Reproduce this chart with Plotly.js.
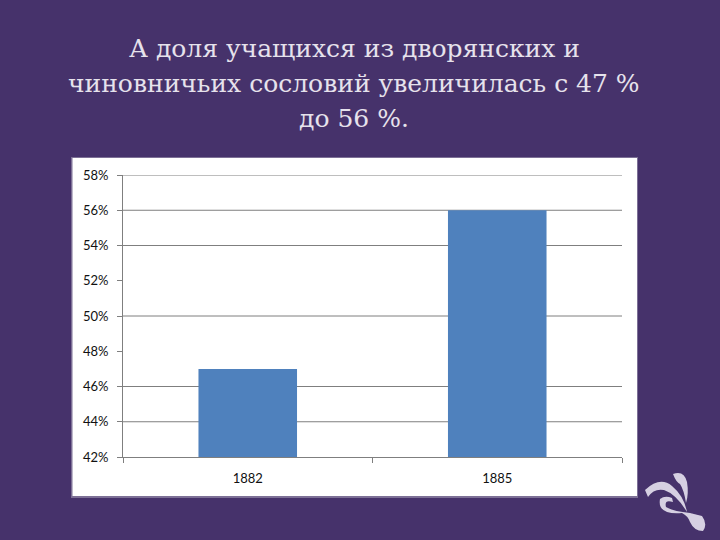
<!DOCTYPE html>
<html><head><meta charset="utf-8">
<script src="https://cdn.plot.ly/plotly-3.0.1.min.js"></script>
<style>html,body{margin:0;padding:0;background:#46326b}</style>
</head><body><div id="chart" style="width:720px;height:540px"></div>
<script>
var categories = ['1882', '1885'];
var shareValues = [47, 56];
var tickValues = [42, 44, 46, 48, 50, 52, 54, 56, 58];
var gridValues = [44, 46, 50, 54, 56, 58];
var titleLines = ['А доля учащихся из дворянских и', 'чиновничьих сословий увеличилась с 47 %', 'до 56 %.'];

var W = 720, H = 540, L = 123, R = 622, T = 175, B = 457;
function px(x) { return (x - L) / (R - L); }
function py(y) { return (B - y) / (B - T); }
function pathOf(points) {
  return points.map(function (p) {
    return typeof p === 'string' ? p : px(p[0]) + ',' + py(p[1]);
  }).join(' ');
}
var shapes = [
  {type: 'rect', xref: 'paper', yref: 'paper', x0: px(71), x1: px(638), y0: py(498), y1: py(157), fillcolor: '#7d7096', line: {width: 0}, layer: 'below'},
  {type: 'rect', xref: 'paper', yref: 'paper', x0: px(72.5), x1: px(637), y0: py(496), y1: py(158), fillcolor: '#ffffff', line: {width: 0}, layer: 'below'}
];
gridValues.forEach(function (v) {
  shapes.push({type: 'line', xref: 'paper', yref: 'y', x0: 0, x1: 1, y0: v, y1: v, line: {color: '#7f7f7f', width: 1}, layer: 'below'});
});
// corner ornament
var ornamentColor = '#d6d0e2';
var ornaments = [
  ['M', [645,490], 'Q', [660,476], [672,486], 'Q', [684,496], [687,512], 'Q', [676,494], [664,490], 'Q', [654,488], [648,497], 'Z'],
  ['M', [673,474], 'Q', [684,470], [687,482], 'Q', [689,494], [686,503], 'Q', [684,490], [680,484], 'Q', [676,482], [673,474], 'Z'],
  ['M', [682,513], 'Q', [657,515], [660,499], 'Q', [665,495], [672,498], 'L', [673,502], 'Q', [664,499], [666,507], 'Q', [672,511], [690,513], 'L', [702,516], 'Q', [708,524], [703,531], 'Q', [694,531], [690,522], 'Q', [688,516], [682,513], 'Z']
];
ornaments.forEach(function (o) {
  shapes.push({type: 'path', xref: 'paper', yref: 'paper', path: pathOf(o).replace(/([MQL]) /g, '$1'), fillcolor: ornamentColor, line: {width: 0}, layer: 'above'});
});
var trace = {
  type: 'bar', x: categories, y: shareValues,
  marker: {color: '#4f81bd', line: {width: 0}},
  hoverinfo: 'skip'
};
var layout = {
  width: W, height: H, showlegend: false,
  paper_bgcolor: '#46326b', plot_bgcolor: '#ffffff',
  margin: {l: L, r: W - R, t: T, b: H - B, pad: 0},
  bargap: 0.605,
  font: {family: 'Lato, sans-serif', color: '#111111', size: 13},
  xaxis: {type: 'category', showgrid: false, showline: true, linecolor: '#7f7f7f', linewidth: 1,
    ticks: 'outside', ticklen: 5, tickcolor: '#7f7f7f', tickson: 'boundaries', ticklabelstandoff: 9,
    tickfont: {size: 13, color: '#111111'}},
  yaxis: {range: [42, 58], tickmode: 'array', tickvals: tickValues,
    ticktext: tickValues.map(function (v) { return v + '%'; }),
    showgrid: false, zeroline: false, showline: true, linecolor: '#7f7f7f', linewidth: 1,
    ticks: 'outside', ticklen: 5, tickcolor: '#7f7f7f', ticklabelstandoff: 6,
    tickfont: {size: 13, color: '#111111'}},
  shapes: shapes,
  annotations: titleLines.map(function (line, i) {
    return {xref: 'paper', yref: 'paper', x: px(354), y: py(49 + i * 34.5), text: line, showarrow: false,
      xanchor: 'center', yanchor: 'middle',
      font: {family: 'DejaVu Serif, serif', size: 25, color: '#e6e2ec'}};
  })
};
Plotly.newPlot('chart', [trace], layout, {displayModeBar: false, staticPlot: true});
</script></body></html>
